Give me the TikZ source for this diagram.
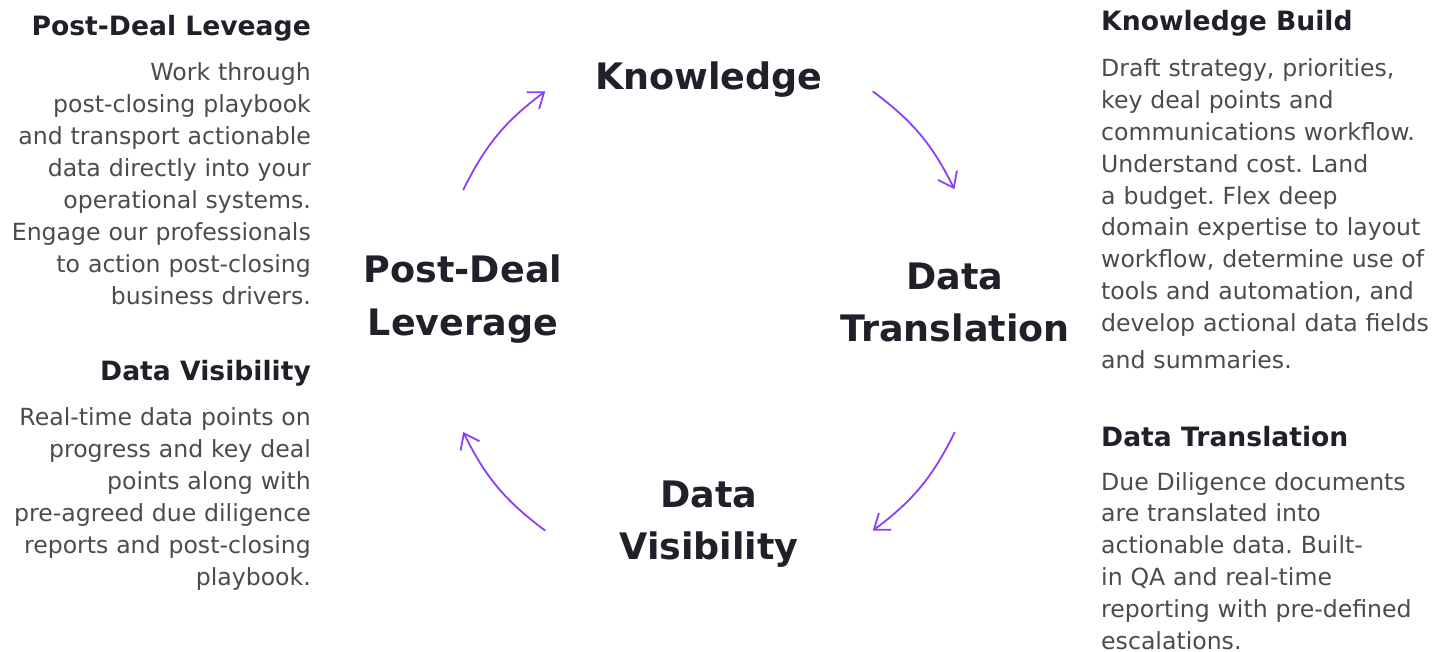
\documentclass[tikz,border=0pt]{standalone}
\usepackage{fontspec}
\setmainfont{DejaVu Sans}
\usepackage{xcolor}
\usepackage{tikz}
\usetikzlibrary{arrows.meta, positioning, calc}
\definecolor{inkdark}{RGB}{32,32,42}
\definecolor{inkgrey}{RGB}{76,76,70}
\definecolor{cyclepurple}{RGB}{140,62,250}
\frenchspacing

\begin{document}
\begin{tikzpicture}[
  x=1pt,y=1pt,
  stage/.style={
    inner sep=0pt, text width=280pt, align=center, anchor=base,
    text=inkdark, font=\fontsize{36.5}{52}\selectfont\bfseries
  },
  headl/.style={inner sep=0pt, anchor=base east, text=inkdark, font=\fontsize{26.6}{30}\selectfont\bfseries},
  headr/.style={inner sep=0pt, anchor=base west, text=inkdark, font=\fontsize{26.6}{30}\selectfont\bfseries},
  bodyl/.style={inner sep=0pt, text width=330pt, align=right, anchor=base east,
    text=inkgrey, font=\fontsize{23.6}{32}\selectfont},
  bodyr/.style={inner sep=0pt, text width=340pt, align=left, anchor=base west,
    text=inkgrey, font=\fontsize{23.6}{31.8}\selectfont},
  cycle arrow/.style={-{Straight Barb[length=14pt, width=21pt, line width=1.8pt]}, line width=1.8pt, draw=cyclepurple}
]
\useasboundingbox (0,0) rectangle (1442,-652);

% ---- cycle stages ----
\node[stage] (know) at (709,-90)  {Knowledge};
\node[stage] (trans) at (955,-289) {Data\\Translation};
\node[stage] (vis)  at (709,-507) {Data\\Visibility};
\node[stage] (post) at (463,-283) {Post-Deal\\Leverage};

% ---- arrow ends on the ring ----
\coordinate (hub) at (709,-311);
\path (hub) ++(153.8:274) coordinate (post-out);
\path (hub) ++(126.7:274) coordinate (know-in);
\path (hub) ++(53.3:274)  coordinate (know-out);
\path (hub) ++(26.4:274)  coordinate (trans-in);
\path (hub) ++(-26.2:274) coordinate (trans-out);
\path (hub) ++(-53.3:274) coordinate (vis-in);
\path (hub) ++(-126.7:274) coordinate (vis-out);
\path (hub) ++(-153.8:274) coordinate (post-in);

\draw[cycle arrow] (post-out)  to[bend left=13.5] (know-in);
\draw[cycle arrow] (know-out)  to[bend left=13.5] (trans-in);
\draw[cycle arrow] (trans-out) to[bend left=13.5] (vis-in);
\draw[cycle arrow] (vis-out)   to[bend left=13.5] (post-in);

% ---- left column ----
\node[headl] (post-head) at (311,-36) {Post-Deal Leveage};
\node[bodyl] (post-text) at (311,-81) {Work through\\post-closing playbook\\and transport actionable\\data directly into your\\operational systems.\\Engage our professionals\\to action post-closing\\business drivers.};

\node[headl] (vis-head) at (311,-380) {Data Visibility};
\node[bodyl] (vis-text) at (311,-425) {Real-time data points on\\progress and key deal\\points along with\\pre-agreed due diligence\\reports and post-closing\\playbook.};

% ---- right column ----
\node[headr] (know-head) at (1101,-31) {Knowledge Build};
\node[bodyr] (know-text) at (1101,-77) {Draft strategy, priorities,\\key deal points and\\communications workflow.\\Understand cost. Land\\a budget. Flex deep\\domain expertise to layout\\workflow, determine use of\\tools and automation, and\\develop actional data fields\\[5pt]and summaries.};

\node[headr] (trans-head) at (1101,-446) {Data Translation};
\node[bodyr] (trans-text) at (1101,-490) {Due Diligence documents\\are translated into\\actionable data. Built-\\in QA and real-time\\reporting with pre-defined\\escalations.};

\end{tikzpicture}
\end{document}
